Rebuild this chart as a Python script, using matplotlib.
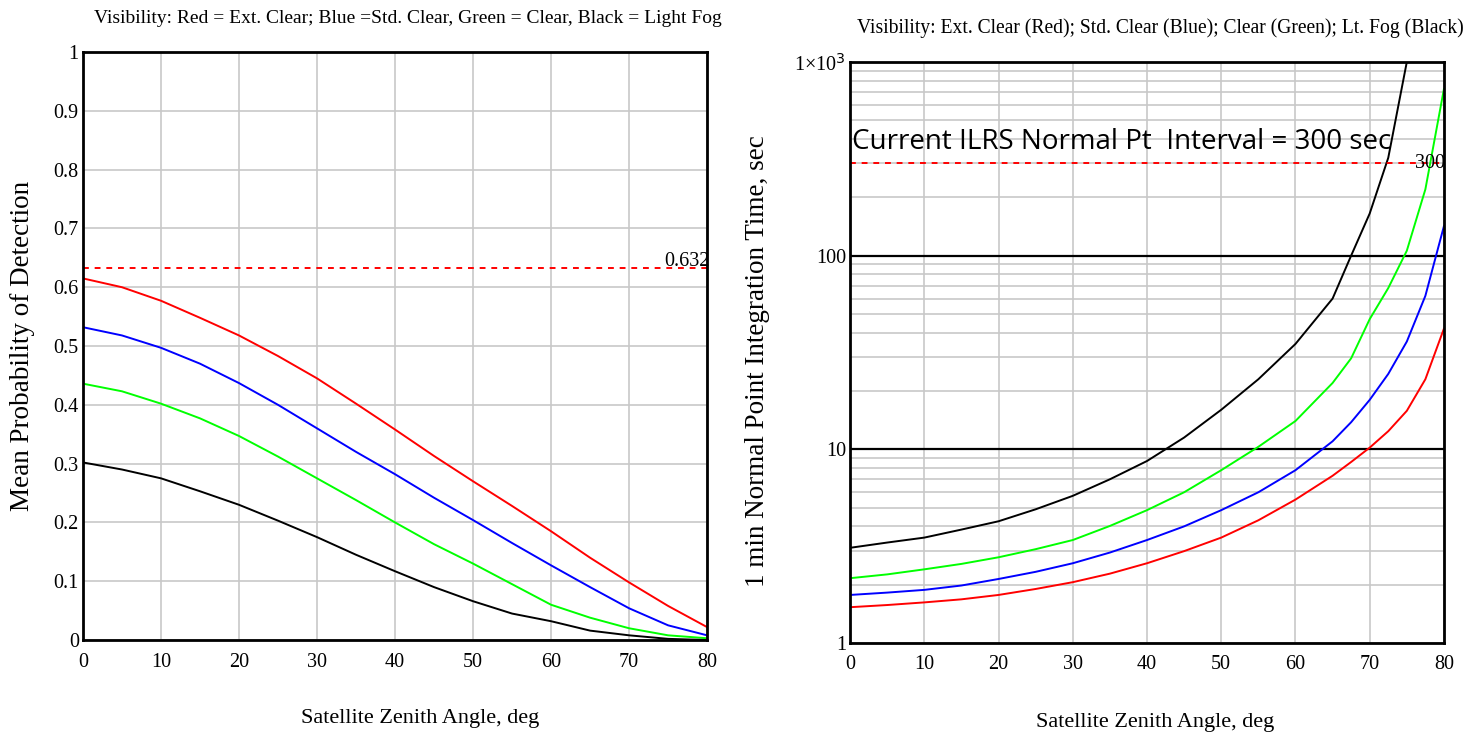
import numpy as np
import matplotlib
matplotlib.use("Agg")
import matplotlib.pyplot as plt

plt.rcParams["font.family"] = ["Liberation Serif", "DejaVu Serif"]

# ---- left panel: mean probability of detection vs zenith angle
angle_p = [0, 5, 10, 15, 20, 25, 30, 35, 40, 45, 50, 55, 60, 65, 70, 75, 80]
prob_red = [0.615, 0.600, 0.577, 0.548, 0.518, 0.483, 0.445, 0.402, 0.358, 0.313, 0.270, 0.228, 0.185, 0.140, 0.098, 0.058, 0.022]
prob_blue = [0.532, 0.518, 0.497, 0.470, 0.437, 0.400, 0.360, 0.320, 0.282, 0.242, 0.204, 0.165, 0.127, 0.090, 0.054, 0.025, 0.008]
prob_green = [0.436, 0.423, 0.402, 0.377, 0.347, 0.312, 0.275, 0.238, 0.200, 0.163, 0.130, 0.095, 0.060, 0.038, 0.020, 0.008, 0.003]
prob_black = [0.302, 0.290, 0.275, 0.253, 0.230, 0.203, 0.175, 0.145, 0.117, 0.090, 0.066, 0.045, 0.032, 0.016, 0.008, 0.002, 0.0]
p_threshold = 0.632

# ---- right panel: 1 min normal point integration time (sec)
angle_t = [0, 5, 10, 15, 20, 25, 30, 35, 40, 45, 50, 55, 60, 65, 67.5, 70, 72.5, 75, 77.5, 80]
time_red = [1.53, 1.57, 1.62, 1.68, 1.77, 1.90, 2.06, 2.28, 2.58, 2.98, 3.5, 4.3, 5.5, 7.3, 8.6, 10.2, 12.4, 15.8, 23.0, 42.0]
time_blue = [1.77, 1.82, 1.88, 1.98, 2.14, 2.33, 2.58, 2.93, 3.4, 4.0, 4.85, 6.0, 7.8, 11.0, 13.8, 18.0, 24.5, 36.0, 62.0, 142.0]
time_green = [2.16, 2.26, 2.40, 2.56, 2.77, 3.05, 3.40, 4.02, 4.85, 6.0, 7.8, 10.3, 14.0, 22.0, 29.5, 47.0, 68.0, 106.0, 220.0, 725.0]
time_black = [3.1, 3.3, 3.5, 3.85, 4.25, 4.9, 5.75, 7.0, 8.7, 11.5, 16.0, 23.0, 35.0, 60.0, 100.0, 165.0, 320.0, 1000.0]
angle_black = [0, 5, 10, 15, 20, 25, 30, 35, 40, 45, 50, 55, 60, 65, 67.5, 70, 72.5, 75]
t_threshold = 300

grid_c = "#c8c8c8"
tick_fs = 14.5
lw = 1.4

fig = plt.figure(figsize=(14.74, 7.36), dpi=100)

#########################################################################
#                           left panel                                  #
#########################################################################
ax1 = fig.add_axes([0.0563, 0.1304, 0.4234, 0.7989])
ax1.plot(angle_p, prob_red, color="#ff0000", lw=lw)
ax1.plot(angle_p, prob_blue, color="#0000ff", lw=lw)
ax1.plot(angle_p, prob_green, color="#00ff00", lw=lw)
ax1.plot(angle_p, prob_black, color="black", lw=lw)
ax1.axhline(p_threshold, color="#ff0000", ls=(0, (3, 3)), lw=1.4)
ax1.text(80.3, p_threshold - 0.004, "0.632", ha="right", va="bottom", fontsize=tick_fs)
ax1.set_xlim(0, 80)
ax1.set_ylim(0, 1)
ax1.set_xticks(np.arange(0, 81, 10))
ax1.set_yticks(np.arange(0, 1.01, 0.1))
ax1.set_yticklabels(["0", "0.1", "0.2", "0.3", "0.4", "0.5", "0.6", "0.7", "0.8", "0.9", "1"])
ax1.grid(True, color=grid_c, lw=1.2)
ax1.set_axisbelow(True)
ax1.tick_params(axis="x", length=0, labelsize=tick_fs, pad=9)
ax1.tick_params(axis="y", length=0, labelsize=tick_fs, pad=3)
for sp in ax1.spines.values():
    sp.set_linewidth(2)
fig.text(0.015, 0.53, "Mean Probability of Detection", rotation=90, ha="center", va="center", fontsize=19.5)
fig.text(0.285, 0.024, "Satellite Zenith Angle, deg", ha="center", va="center", fontsize=16)
fig.text(0.277, 0.975, "Visibility: Red = Ext. Clear; Blue =Std. Clear, Green = Clear, Black = Light Fog",
         ha="center", va="center", fontsize=14)

#########################################################################
#                           right panel                                 #
#########################################################################
ax2 = fig.add_axes([0.5767, 0.1264, 0.4029, 0.7894])
ax2.set_yscale("log")
ax2.plot(angle_t, time_red, color="#ff0000", lw=lw)
ax2.plot(angle_t, time_blue, color="#0000ff", lw=lw)
ax2.plot(angle_t, time_green, color="#00ff00", lw=lw)
ax2.plot(angle_black, time_black, color="black", lw=lw)
ax2.axhline(10, color="black", lw=1.6, zorder=1)
ax2.axhline(100, color="black", lw=1.6, zorder=1)
ax2.axhline(t_threshold, color="#ff0000", ls=(0, (3, 3)), lw=1.4)
ax2.text(80.2, t_threshold, "300", ha="right", va="center", fontsize=tick_fs)
ax2.text(0.2, 385, "Current ILRS Normal Pt  Interval = 300 sec", ha="left", va="center",
         fontsize=20, family=["Open Sans", "DejaVu Sans"])
ax2.set_xlim(0, 80)
ax2.set_ylim(1, 1000)
ax2.set_xticks(np.arange(0, 81, 10))
ax2.set_yticks([1, 10, 100, 1000])
ax2.set_yticklabels(["1", "10", "100", r"1×10$^3$"])
ax2.yaxis.set_minor_locator(matplotlib.ticker.LogLocator(base=10, subs=np.arange(2, 10)))
ax2.yaxis.set_minor_formatter(matplotlib.ticker.NullFormatter())
ax2.grid(True, which="both", color=grid_c, lw=1.2)
ax2.set_axisbelow(True)
ax2.tick_params(axis="x", which="both", length=0, labelsize=tick_fs, pad=9)
ax2.tick_params(axis="y", which="both", length=0, labelsize=tick_fs, pad=3)
for sp in ax2.spines.values():
    sp.set_linewidth(2)
fig.text(0.514, 0.51, "1 min Normal Point Integration Time, sec", rotation=90, ha="center", va="center",
         fontsize=19.5)
fig.text(0.784, 0.019, "Satellite Zenith Angle, deg", ha="center", va="center", fontsize=16)
fig.text(0.5815, 0.962, "Visibility: Ext. Clear (Red); Std. Clear (Blue); Clear (Green); Lt. Fog (Black)",
         ha="left", va="center", fontsize=14.1)

fig.savefig("out.png", dpi=100)
